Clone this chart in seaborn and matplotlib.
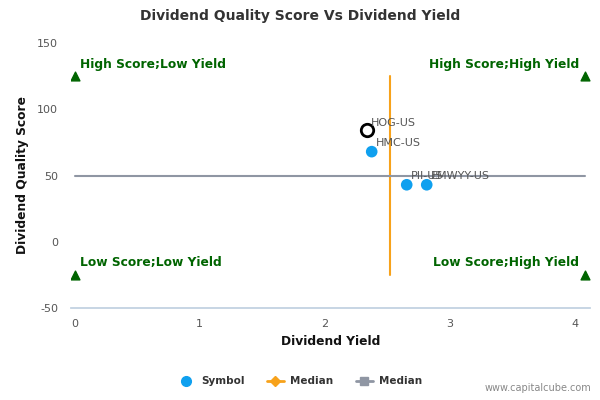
import matplotlib
matplotlib.use("Agg")
import matplotlib.pyplot as plt
import seaborn as sns
import pandas as pd
from matplotlib.lines import Line2D

# data
symbols = ["HMC-US", "PII-US", "EMWYY-US"]
yields = [2.376, 2.656, 2.816]
scores = [68, 43, 43]

focus_symbol = "HOG-US"
focus_yield = 2.336
focus_score = 84.5

median_yield = 2.52
median_score = 50
yield_span = [0, 4.08]
score_span = [-25, 125]

quadrant_labels = ["High Score;Low Yield", "High Score;High Yield",
                   "Low Score;Low Yield", "Low Score;High Yield"]

sns.set_theme(style="white")
plt.rcParams["font.family"] = ["DejaVu Sans"]
plt.rcParams["axes.unicode_minus"] = False

BLUE = "#0fa0ef"
ORANGE = "#f7a21b"
GREY = "#8f96a3"
GREEN = "#006400"

fig = plt.figure(figsize=(6, 4), dpi=100)
ax = fig.add_axes([0.118, 0.23, 0.865, 0.6625])

df = pd.DataFrame({"symbol": symbols, "yield": yields, "score": scores})

# median lines
ax.plot([median_yield, median_yield], score_span, color=ORANGE, lw=1.5, zorder=2)
ax.plot(yield_span, [median_score, median_score], color=GREY, lw=1.5, zorder=2)

sns.scatterplot(data=df, x="yield", y="score", ax=ax, color=BLUE, s=70,
                edgecolor="none", zorder=3, legend=False)
ax.scatter([focus_yield], [focus_score], s=80, facecolor="white",
           edgecolor="black", linewidth=2, zorder=4)

# point labels
for sym, x, y in zip(symbols, yields, scores):
    ax.annotate(sym, (x, y), xytext=(3, 4), textcoords="offset points",
                fontsize=8, color="#555555", zorder=5)
ax.annotate(focus_symbol, (focus_yield, focus_score), xytext=(3, 3),
            textcoords="offset points", fontsize=8, color="#555555", zorder=5)

# quadrant markers
qx = [yield_span[0], yield_span[1], yield_span[0], yield_span[1]]
qy = [score_span[1], score_span[1], score_span[0], score_span[0]]
ax.scatter(qx, qy, marker="^", color=GREEN, s=40, zorder=3)
for lab, x, y in zip(quadrant_labels, qx, qy):
    ha = "left" if x == yield_span[0] else "right"
    off = 4 if ha == "left" else -4
    ax.annotate(lab, (x, y), xytext=(off, 4), textcoords="offset points",
                ha=ha, va="bottom", fontsize=8.8, fontweight="bold", color=GREEN)

ax.set_xlim(-0.03, 4.12)
ax.set_ylim(-50, 150)
ax.set_xticks([0, 1, 2, 3, 4])
ax.set_yticks([-50, 0, 50, 100, 150])
ax.tick_params(axis="both", labelsize=8, colors="#555555", length=0)
ax.tick_params(axis="y", pad=9)
ax.tick_params(axis="x", length=5, color="#c0d0e0", direction="out", pad=3)

for side in ["top", "right", "left"]:
    ax.spines[side].set_visible(False)
ax.spines["bottom"].set_color("#c0d0e0")

ax.set_xlabel("Dividend Yield", fontsize=8.8, fontweight="bold", color="#111111", labelpad=4)
ax.set_ylabel("Dividend Quality Score", fontsize=8.8, fontweight="bold", color="#111111", labelpad=6)

fig.text(0.5, 0.96, "Dividend Quality Score Vs Dividend Yield", ha="center", va="center",
         fontsize=10, fontweight="bold", color="#333333")

handles = [
    Line2D([], [], marker="o", color=BLUE, linestyle="none", markersize=7),
    Line2D([], [], marker="D", color=ORANGE, lw=2, markersize=5),
    Line2D([], [], marker="s", color=GREY, lw=2, markersize=6),
]
fig.legend(handles, ["Symbol", "Median", "Median"], loc="center", bbox_to_anchor=(0.5, 0.047),
           ncol=3, frameon=False, prop={"size": 7.5, "weight": "bold"},
           handlelength=1.6, columnspacing=2.2, handletextpad=0.6, labelcolor="#333333")

fig.text(0.985, 0.018, "www.capitalcube.com", ha="right", va="bottom", fontsize=7, color="#888888")

fig.savefig("out.png", dpi=100)
